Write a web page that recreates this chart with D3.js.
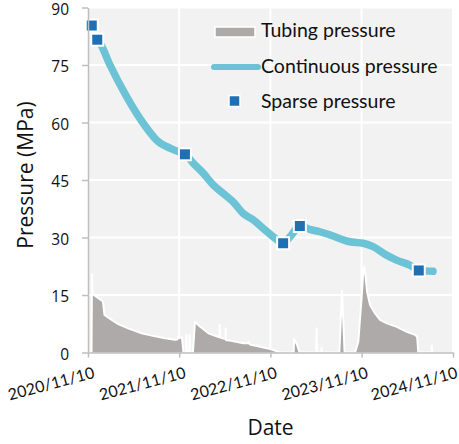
<!DOCTYPE html>
<html><head><meta charset="utf-8">
<script src="https://cdn.jsdelivr.net/npm/d3@7"></script>
<style>body{margin:0;background:#fff}</style>
</head><body><svg id="c" width="459" height="444"></svg>
<script>
// ---------- data ----------
const startDate = "2020-11-10";
const xTickLabels = ["2020/11/10","2021/11/10","2022/11/10","2023/11/10","2024/11/10"];
const yTicks = [0, 15, 30, 45, 60, 75, 90];
const legendLabels = ["Tubing pressure", "Continuous pressure", "Sparse pressure"];

// Tubing pressure: days after 2020/11/10 and MPa
const tubingDays = [14,16,19,32,60,66,95,121,161,215,255,308,348,358,361,364,376,382,392,394,396,405,407,409,420,428,448,482,520,526,527,529,550,551,553,568,622,640,642,648,689,729,762,769,823,825,837,847,913,915,917,933,935,937,1006,1017,1027,1069,1082,1096,1102,1106,1111,1117,1129,1149,1169,1196,1236,1276,1309,1316,1318,1322,1374,1376,1378];
const tubingMPa  = [0,20.4,15.2,14.6,13.3,9.8,8.5,7.4,6.3,5.0,4.4,3.7,3.3,3.4,4.1,3.8,4.0,0,0,4.6,0,0,4.6,0,0,8.0,6.8,5.0,4.1,4.0,7.2,3.9,3.5,6.3,3.2,3.1,2.4,2.4,2.7,2.1,1.5,0.9,0.2,0,0,3.5,2.0,0,0,6.3,0,0,1.2,0,0,16.0,0,0,2.8,15.0,21.5,22.3,19.8,15.9,12.4,10.2,8.5,7.6,6.7,5.4,4.6,4.2,3.7,0,0,1.8,0];

// Continuous pressure
const continuousDates = ["2020-12-17","2020-12-28","2021-02-06","2021-04-14","2021-06-19","2021-08-12","2021-10-04","2021-11-20","2021-12-03","2022-01-05","2022-02-14","2022-03-26","2022-05-05","2022-06-14","2022-07-24","2022-09-02","2022-10-12","2022-11-21","2022-12-18","2022-12-31","2023-02-03","2023-03-08","2023-04-17","2023-05-27","2023-07-06","2023-09-24","2023-11-16","2023-12-26","2024-02-18","2024-03-29","2024-05-21","2024-06-26","2024-08-22"];
const continuousMPa = [81.6,80.7,75.0,66.7,59.8,55.4,53.3,52.1,51.8,49.4,46.8,43.7,41.5,39.3,36.3,34.6,32.4,30.2,28.9,28.5,30.7,33.1,32.1,31.5,30.7,28.9,28.5,27.6,25.4,24.1,22.8,21.5,21.2];

// Sparse pressure
const sparseDates = ["2020-11-25","2020-12-17","2021-12-03","2022-12-31","2023-03-08","2024-06-26"];
const sparseMPa = [85.3,81.6,51.7,28.5,33.0,21.4];

// ---------- chart ----------
const svg = d3.select("#c");
const L = 88, R = 453, T = 7.5, B = 352.5;
const parseISO = d3.utcParse("%Y-%m-%d");
const parseTick = d3.utcParse("%Y/%m/%d");
const t0 = parseISO(startDate);
const tickDates = xTickLabels.map(parseTick);

const x = d3.scaleUtc().domain([tickDates[0], tickDates[tickDates.length-1]]).range([L, R]);
const y = d3.scaleLinear().domain([0, 90]).range([B, T]);

const tubing = tubingDays.map((d,i) => ({date: d3.utcDay.offset(t0, d), v: tubingMPa[i]}));
const cont = continuousDates.map((d,i) => ({date: parseISO(d), v: continuousMPa[i]}));
const sparse = sparseDates.map((d,i) => ({date: parseISO(d), v: sparseMPa[i]}));

const gray = "#aeaaaa", lineC = "#6cc3d5", markC = "#1f6fb4", axisC = "#bfbfbf";
const titleFont = "'Open Sans', sans-serif";
const calFont = "Lato, sans-serif";

// background
svg.append("rect").attr("x", L).attr("y", T).attr("width", R-L).attr("height", B-T).attr("fill", "#f2f2f2");

// gridlines
svg.append("g").selectAll("line").data(yTicks.filter(v => v > 0)).join("line")
  .attr("x1", L).attr("x2", R).attr("y1", d => y(d)).attr("y2", d => y(d))
  .attr("stroke", "#fff").attr("stroke-width", 2);
svg.append("g").selectAll("line").data(tickDates.slice(1)).join("line")
  .attr("x1", d => x(d)).attr("x2", d => x(d)).attr("y1", T).attr("y2", B)
  .attr("stroke", "#fff").attr("stroke-width", 2);

// tubing area
svg.append("path").datum(tubing)
  .attr("d", d3.area().x(d => x(d.date)).y0(y(0)).y1(d => y(d.v)))
  .attr("fill", gray);
svg.append("path").datum(tubing)
  .attr("d", d3.line().x(d => x(d.date)).y(d => y(d.v)))
  .attr("fill", "none").attr("stroke", "#fff").attr("stroke-width", 2).attr("stroke-linejoin", "round");

// continuous line
svg.append("path").datum(cont)
  .attr("d", d3.line().x(d => x(d.date)).y(d => y(d.v)).curve(d3.curveMonotoneX))
  .attr("fill", "none").attr("stroke", lineC).attr("stroke-width", 7.5)
  .attr("stroke-linecap", "round").attr("stroke-linejoin", "round");

// sparse markers
const ms = 12;
svg.append("g").selectAll("rect").data(sparse).join("rect")
  .attr("x", d => x(d.date) - ms/2).attr("y", d => y(d.v) - ms/2)
  .attr("width", ms).attr("height", ms)
  .attr("fill", markC).attr("stroke", "#fff").attr("stroke-width", 2);

// axes
const yAxis = svg.append("g").attr("transform", `translate(${L},0)`)
  .call(d3.axisLeft(y).tickValues(yTicks).tickSize(6).tickSizeOuter(0).tickPadding(13).tickFormat(d3.format("d")));
yAxis.select(".domain").attr("stroke", axisC).attr("stroke-width", 1.5);
yAxis.selectAll(".tick line").attr("stroke", axisC).attr("stroke-width", 1.5);
yAxis.selectAll(".tick text").attr("font-family", titleFont).attr("font-size", 15.5)
  .attr("dy", "0.42em").attr("fill", "#111");

const xAxis = svg.append("g").attr("transform", `translate(0,${B})`)
  .call(d3.axisBottom(x).tickValues(tickDates).tickSize(5).tickSizeOuter(0).tickFormat(d3.utcFormat("%Y/%m/%d")));
xAxis.select(".domain").attr("stroke", axisC).attr("stroke-width", 1.5);
xAxis.selectAll(".tick line").attr("stroke", axisC).attr("stroke-width", 1.5);
xAxis.selectAll(".tick text")
  .attr("x", 0).attr("y", 0).attr("dy", null)
  .attr("text-anchor", "end")
  .attr("transform", (d,i,n) => i === n.length - 1 ? "translate(5,25) rotate(-15)" : "translate(7,25) rotate(-15)")
  .attr("font-family", calFont).attr("font-size", 16).attr("fill", "#111");

// axis titles
svg.append("text").attr("x", (L+R)/2).attr("y", 435).attr("text-anchor", "middle")
  .attr("font-family", titleFont).attr("font-size", 21).attr("fill", "#111").text("Date");
svg.append("text").attr("transform", "translate(33,175) rotate(-90)").attr("text-anchor", "middle")
  .attr("font-family", titleFont).attr("font-size", 21).attr("fill", "#111").text("Pressure (MPa)");

// legend
const lg = svg.append("g");
lg.append("rect").attr("x", 215).attr("y", 27).attr("width", 40).attr("height", 10)
  .attr("fill", gray).attr("stroke", "#fff").attr("stroke-width", 1.5);
lg.append("line").attr("x1", 214).attr("x2", 258).attr("y1", 67).attr("y2", 67)
  .attr("stroke", lineC).attr("stroke-width", 6).attr("stroke-linecap", "round");
lg.append("rect").attr("x", 229).attr("y", 95.5).attr("width", 11).attr("height", 11)
  .attr("fill", markC).attr("stroke", "#fff").attr("stroke-width", 1.5);
const lgY = [36.7, 72.7, 108.3];
lg.selectAll("text").data(legendLabels).join("text")
  .attr("x", 261).attr("y", (d,i) => lgY[i])
  .attr("font-family", calFont).attr("font-size", 19.5).attr("fill", "#111").text(d => d);
</script>
</body></html>
